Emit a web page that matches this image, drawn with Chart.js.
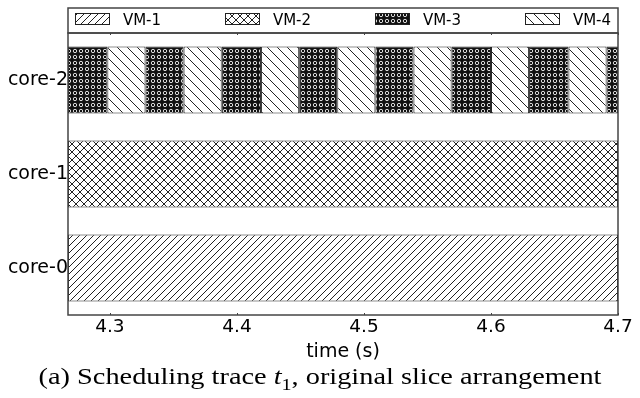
<!DOCTYPE html>
<html>
<head>
<meta charset="utf-8">
<script src="https://cdn.jsdelivr.net/npm/chart.js@4"></script>
<style>
  html, body { margin: 0; padding: 0; background: #fff; }
  #wrap { position: relative; width: 640px; height: 398px; }
  #caption {
    position: absolute; left: 0; top: 364px; width: 640px;
    text-align: center; font-family: 'Liberation Serif', serif;
    font-size: 24px; line-height: 24px; color: #000;
    transform: scaleX(1.18); transform-origin: 320px 0;
  }
</style>
</head>
<body>
<div id="wrap">
  <canvas id="chart" width="640" height="398"></canvas>
  <div id="caption">(a) Scheduling trace <i>t</i><sub style="font-size:17px">1</sub>, original slice arrangement</div>
</div>
<script>
// categories (top to bottom) and legend order
const cores = ['core-2', 'core-1', 'core-0'];
const vmNames = ['VM-1', 'VM-2', 'VM-3', 'VM-4'];

// slice edges (s) and which VM runs in each slice
const core0Edges = [4.267, 4.7];
const core0Vms = ['VM-1'];
const core1Edges = [4.267, 4.7];
const core1Vms = ['VM-2'];
const core2Edges = [4.267, 4.298, 4.328, 4.358, 4.388, 4.419, 4.449, 4.479,
                    4.509, 4.539, 4.569, 4.600, 4.630, 4.661, 4.691, 4.7];
const core2Vms = ['VM-3', 'VM-4', 'VM-3', 'VM-4', 'VM-3', 'VM-4', 'VM-3', 'VM-4',
                  'VM-3', 'VM-4', 'VM-3', 'VM-4', 'VM-3', 'VM-4', 'VM-3'];

const xTicks = [4.3, 4.4, 4.5, 4.6, 4.7];
const xMin = 4.267;
const xMax = 4.7;

const FONT = 'DejaVu Sans';
const INK = '#222';

// hatch patterns
function makePattern(w, h, draw) {
    const c = document.createElement('canvas');
    c.width = w; c.height = h;
    const g = c.getContext('2d');
    g.fillStyle = '#fff';
    g.fillRect(0, 0, w, h);
    g.strokeStyle = INK;
    g.lineWidth = 1;
    draw(g, w, h);
    return g.createPattern(c, 'repeat');
}
const ctx = document.getElementById('chart').getContext('2d');
const patterns = {
    'VM-1': makePattern(7, 7, (g, w, h) => {
        g.beginPath();
        g.moveTo(-1, h + 1); g.lineTo(w + 1, -1);
        g.moveTo(-1, 1); g.lineTo(1, -1);
        g.moveTo(w - 1, h + 1); g.lineTo(w + 1, h - 1);
        g.stroke();
    }),
    'VM-2': makePattern(8, 8, (g, w, h) => {
        g.beginPath();
        g.moveTo(-1, h + 1); g.lineTo(w + 1, -1);
        g.moveTo(-1, -1); g.lineTo(w + 1, h + 1);
        g.stroke();
    }),
    'VM-3': makePattern(6, 6, (g, w, h) => {
        g.fillStyle = '#111';
        g.fillRect(0, 0, w, h);
        g.strokeStyle = '#ddd';
        g.lineWidth = 1;
        g.beginPath();
        g.arc(3, 3, 1.7, 0, Math.PI * 2);
        g.stroke();
    }),
    'VM-4': makePattern(10, 10, (g, w, h) => {
        g.beginPath();
        g.moveTo(-1, -1); g.lineTo(w + 1, h + 1);
        g.moveTo(w - 1, -1); g.lineTo(w + 1, 1);
        g.moveTo(-1, h - 1); g.lineTo(1, h + 1);
        g.stroke();
    })
};

// one floating bar dataset per slice
const datasets = [];
function addSlices(core, edges, vms) {
    vms.forEach((vm, i) => {
        datasets.push({
            label: vm,
            data: cores.map(c => c === core ? [edges[i], edges[i + 1]] : null),
            backgroundColor: patterns[vm],
            borderColor: INK,
            borderWidth: 1,
            borderSkipped: false,
            grouped: false,
            categoryPercentage: 1,
            barPercentage: 0.713
        });
    });
}
addSlices('core-0', core0Edges, core0Vms);
addSlices('core-1', core1Edges, core1Vms);
addSlices('core-2', core2Edges, core2Vms);

// frame, legend box and small inward ticks
const framePlugin = {
    id: 'frame',
    afterDraw(chart) {
        const { ctx, chartArea: a } = chart;
        const x = chart.scales.x;
        ctx.save();
        ctx.strokeStyle = '#444';
        ctx.lineWidth = 1.5;
        ctx.strokeRect(a.left, a.top, a.right - a.left, a.bottom - a.top);
        const boxTop = 8;
        ctx.strokeRect(a.left, boxTop, a.right - a.left, a.top - boxTop);

        ctx.lineWidth = 1;
        xTicks.forEach(v => {
            const px = Math.round(x.getPixelForValue(v)) + 0.5;
            ctx.beginPath();
            ctx.moveTo(px, a.bottom); ctx.lineTo(px, a.bottom - 2);
            ctx.moveTo(px, a.top); ctx.lineTo(px, a.top + 2);
            ctx.stroke();
        });

        // legend row
        ctx.font = '15px "' + FONT + '"';
        ctx.textBaseline = 'middle';
        ctx.fillStyle = '#000';
        const sw = 34, sh = 11, gap = 14, step = 150;
        const itemW = sw + gap + ctx.measureText(vmNames[0]).width;
        const mid = (a.left + a.right) / 2;
        let lx = mid - (step * (vmNames.length - 1) + itemW) / 2;
        const cy = (boxTop + a.top) / 2;
        vmNames.forEach(vm => {
            const bx = Math.round(lx) + 0.5, by = Math.round(cy - sh / 2) - 1.5;
            ctx.fillStyle = patterns[vm];
            ctx.fillRect(bx, by, sw, sh);
            ctx.strokeStyle = INK;
            ctx.strokeRect(bx, by, sw, sh);
            ctx.fillStyle = '#000';
            ctx.fillText(vm, lx + sw + gap, cy + 1);
            lx += step;
        });
        ctx.restore();
    }
};

new Chart(ctx, {
    type: 'bar',
    data: { labels: cores, datasets: datasets },
    options: {
        indexAxis: 'y',
        responsive: false,
        animation: false,
        events: [],
        layout: { padding: { top: 33, right: 22, bottom: 33, left: 0 } },
        plugins: {
            legend: { display: false },
            tooltip: { enabled: false }
        },
        scales: {
            x: {
                type: 'linear',
                min: xMin,
                max: xMax,
                afterBuildTicks: s => { s.ticks = xTicks.map(v => ({ value: v })); },
                afterFit: s => { s.height = 50; },
                grid: { display: false, drawTicks: false },
                border: { display: false },
                ticks: {
                    autoSkip: false,
                    maxRotation: 0,
                    padding: 1,
                    color: '#000',
                    font: { family: FONT, size: 18.5 },
                    callback: v => Number(v).toFixed(1)
                },
                title: {
                    display: true,
                    text: 'time (s)',
                    color: '#000',
                    font: { family: FONT, size: 19 },
                    padding: { top: 0, bottom: 2 }
                }
            },
            y: {
                afterFit: s => { s.width = 68; },
                grid: { display: false, drawTicks: false },
                border: { display: false },
                ticks: {
                    padding: 0,
                    color: '#000',
                    font: { family: FONT, size: 19 }
                }
            }
        }
    },
    plugins: [framePlugin]
});
</script>
</body>
</html>
